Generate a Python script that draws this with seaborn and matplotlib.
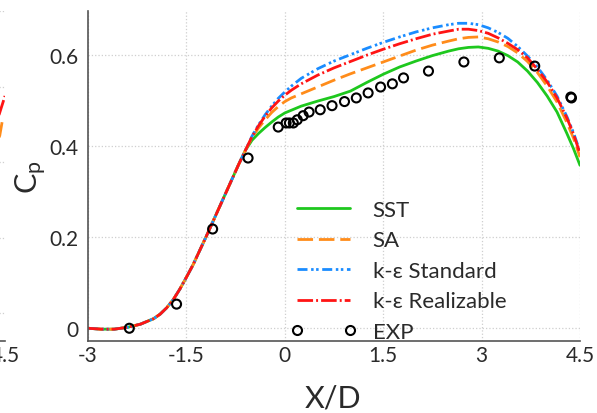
import matplotlib
matplotlib.use("Agg")
import matplotlib.pyplot as plt
import seaborn as sns
import numpy as np
import pandas as pd
from matplotlib.lines import Line2D
from matplotlib.legend_handler import HandlerLine2D

# ---------------- data ----------------
# shared part of all four CFD curves
base_x = [-3.0, -2.8, -2.6, -2.4, -2.2, -2.0, -1.9, -1.8, -1.7, -1.6, -1.5, -1.4, -1.3,
          -1.2, -1.1, -1.0, -0.9, -0.8, -0.7, -0.6]
base_y = [0.000, -0.002, -0.002, 0.002, 0.009, 0.021, 0.031, 0.045, 0.063, 0.086, 0.112,
          0.139, 0.170, 0.201, 0.233, 0.265, 0.297, 0.329, 0.361, 0.391]

sst_x = [-0.5, -0.4, -0.3, -0.2, -0.1, 0.0, 0.25, 0.5, 0.75, 1.0, 1.25, 1.5, 1.75, 2.0, 2.25,
         2.5, 2.65, 2.8, 2.95, 3.1, 3.25, 3.4, 3.55, 3.7, 3.85, 4.0, 4.15, 4.3, 4.4, 4.5]
sst_y = [0.413, 0.428, 0.441, 0.453, 0.464, 0.473, 0.488, 0.499, 0.509, 0.521, 0.540, 0.558,
         0.574, 0.587, 0.599, 0.609, 0.614, 0.617, 0.618, 0.615, 0.609, 0.599, 0.585, 0.565,
         0.540, 0.510, 0.475, 0.428, 0.395, 0.358]

sa_x = [-0.5, -0.4, -0.3, -0.2, -0.1, 0.0, 0.1, 0.25, 0.5, 0.75, 1.0, 1.25, 1.5, 1.75, 2.0, 2.25,
        2.5, 2.65, 2.8, 2.95, 3.1, 3.25, 3.4, 3.55, 3.7, 3.85, 4.0, 4.15, 4.3, 4.4, 4.5]
sa_y = [0.419, 0.440, 0.458, 0.474, 0.487, 0.498, 0.506, 0.515, 0.530, 0.545, 0.559, 0.572,
        0.585, 0.598, 0.611, 0.622, 0.631, 0.636, 0.639, 0.640, 0.636, 0.629, 0.619, 0.605,
        0.586, 0.562, 0.532, 0.497, 0.452, 0.418, 0.376]

kes_x = [-0.5, -0.4, -0.3, -0.2, -0.1, 0.0, 0.1, 0.25, 0.5, 0.75, 1.0, 1.25, 1.5, 1.75, 2.0, 2.25,
         2.5, 2.65, 2.8, 2.95, 3.1, 3.25, 3.4, 3.55, 3.7, 3.85, 4.0, 4.15, 4.3, 4.4, 4.5]
kes_y = [0.422, 0.447, 0.469, 0.488, 0.505, 0.519, 0.532, 0.549, 0.570, 0.587, 0.601, 0.615,
         0.628, 0.640, 0.651, 0.660, 0.667, 0.670, 0.670, 0.667, 0.660, 0.650, 0.637, 0.619,
         0.598, 0.574, 0.545, 0.510, 0.465, 0.430, 0.388]

ker_x = [-0.5, -0.4, -0.3, -0.2, -0.1, 0.0, 0.1, 0.25, 0.5, 0.75, 1.0, 1.25, 1.5, 1.75, 2.0, 2.25,
         2.5, 2.65, 2.8, 2.95, 3.1, 3.25, 3.4, 3.55, 3.7, 3.85, 4.0, 4.15, 4.3, 4.4, 4.5]
ker_y = [0.421, 0.445, 0.466, 0.484, 0.499, 0.512, 0.523, 0.537, 0.556, 0.572, 0.586, 0.600,
         0.613, 0.625, 0.636, 0.646, 0.653, 0.657, 0.657, 0.654, 0.648, 0.638, 0.626, 0.612,
         0.594, 0.569, 0.541, 0.506, 0.462, 0.427, 0.384]

exp_x = [-2.37, -1.65, -1.10, -0.56, -0.10, 0.02, 0.07, 0.13, 0.19, 0.28, 0.37, 0.54, 0.72,
         0.91, 1.09, 1.27, 1.46, 1.64, 1.81, 2.19, 2.73, 3.27, 3.81, 4.36, 4.37]
exp_y = [0.000, 0.053, 0.218, 0.374, 0.442, 0.451, 0.451, 0.451, 0.458, 0.467, 0.475, 0.480, 0.489,
         0.498, 0.506, 0.517, 0.530, 0.537, 0.550, 0.565, 0.585, 0.594, 0.576, 0.508, 0.506]

# fragment of the neighbouring (cropped) panel at the left edge
nb_red_x = [4.3, 4.4, 4.5]
nb_red_y = [0.48, 0.52, 0.575]
nb_orange_x = [4.3, 4.42, 4.47]
nb_orange_y = [0.42, 0.47, 0.52]

x_ticks = [-3, -1.5, 0, 1.5, 3, 4.5]
x_tick_labels = ["-3", "-1.5", "0", "1.5", "3", "4.5"]
y_ticks = [0, 0.2, 0.4, 0.6]
y_tick_labels = ["0", "0.2", "0.4", "0.6"]
nb_y_ticks = [0, 0.2, 0.4, 0.6, 0.8]

labels = ["SST", "SA", "k-\u03b5 Standard", "k-\u03b5 Realizable", "EXP"]

# ---------------- style ----------------
sns.set_theme(style="white")
plt.rcParams["font.family"] = ["Lato", "DejaVu Sans"]
plt.rcParams["mathtext.fontset"] = "custom"
plt.rcParams["mathtext.rm"] = "Lato"
plt.rcParams["mathtext.it"] = "Lato"

colors = ["#1ec81e", "#ff8c1a", "#1a8cff", "#ff1414"]
styles = ["-", (0, (5.6, 2.1)), (0, (3.6, 1.3, 0.9, 0.9, 0.9, 1.3)), (0, (5.6, 1.1, 0.7, 1.1))]
LW = 2.0
text_col = "#2a2a2a"

fig = plt.figure(figsize=(5.97, 4.14), dpi=100)
ax = fig.add_axes([88 / 597, 1 - 342 / 414, 492 / 597, 330 / 414])

series = [(sst_x, sst_y), (sa_x, sa_y), (kes_x, kes_y), (ker_x, ker_y)]
for (sx, sy), c, ls in zip(series, colors, styles):
    xx = base_x + sx
    yy = base_y + sy
    sns.lineplot(x=xx, y=yy, color=c, linestyle=ls, linewidth=LW, ax=ax,
                 sort=False, errorbar=None, legend=False)

sns.scatterplot(x=exp_x, y=exp_y, marker="o", s=42, facecolor="none",
                edgecolor="black", linewidth=1.5, ax=ax, legend=False, zorder=5)

ax.set_xlim(-3, 4.5)
ax.set_ylim(-0.028, 0.697)
ax.set_xticks(x_ticks)
ax.set_xticklabels(x_tick_labels)
ax.set_yticks(y_ticks)
ax.set_yticklabels(y_tick_labels)
ax.tick_params(axis="both", length=0, labelsize=15, colors=text_col)
ax.tick_params(axis="x", pad=3)
ax.tick_params(axis="y", pad=7)
ax.grid(True, color="#cfcfcf", linestyle=":", linewidth=0.9)
for s in ["top", "right"]:
    ax.spines[s].set_visible(False)
for s in ["left", "bottom"]:
    ax.spines[s].set_color("#555555")
    ax.spines[s].set_linewidth(1.2)

ax.set_xlabel("X/D", fontsize=22, color=text_col)
ax.xaxis.set_label_coords(0.498, -0.13)
ax.set_ylabel("C$_\\mathrm{p}$", fontsize=22, color=text_col, rotation=90)
ax.yaxis.set_label_coords(-0.08, 0.5)

handles = [Line2D([], [], color=c, linestyle=ls, linewidth=LW) for c, ls in zip(colors, styles)]
handles.append(Line2D([], [], color="black", linestyle="none", marker="o",
                      markersize=6.5, markerfacecolor="none", markeredgewidth=1.5))
leg = ax.legend(handles, labels, loc="upper left",
                bbox_to_anchor=(297 / 597, 1 - 201 / 414), bbox_transform=fig.transFigure,
                frameon=False, fontsize=16, numpoints=2, handlelength=2.4,
                handletextpad=1.0, labelspacing=0.47, borderpad=0, borderaxespad=0,
                handler_map={Line2D: HandlerLine2D(marker_pad=0)})
for t in leg.get_texts():
    t.set_color(text_col)

# cropped neighbouring panel at the very left edge
ax2 = fig.add_axes([5 / 597 - 492 / 597, 1 - 342 / 414, 492 / 597, 330 / 414], zorder=-1)
sns.lineplot(x=nb_orange_x, y=nb_orange_y, color=colors[1], linestyle=styles[1],
             linewidth=LW, ax=ax2, sort=False, errorbar=None, legend=False)
sns.lineplot(x=nb_red_x, y=nb_red_y, color=colors[3], linestyle=styles[3],
             linewidth=LW, ax=ax2, sort=False, errorbar=None, legend=False)
ax2.set_xlim(-3, 4.5)
ax2.set_ylim(-0.074, 0.8)
ax2.set_xticks([x_ticks[-1]])
ax2.set_xticklabels([x_tick_labels[-1]])
ax2.set_yticks(nb_y_ticks)
ax2.set_yticklabels([])
ax2.tick_params(axis="both", length=0, labelsize=15, colors=text_col)
ax2.tick_params(axis="x", pad=3)
ax2.grid(True, axis="y", color="#cfcfcf", linestyle=":", linewidth=0.9)
for s in ["top", "right"]:
    ax2.spines[s].set_visible(False)
for s in ["left", "bottom"]:
    ax2.spines[s].set_color("#555555")
    ax2.spines[s].set_linewidth(1.2)

fig.savefig("out.png", dpi=100)
